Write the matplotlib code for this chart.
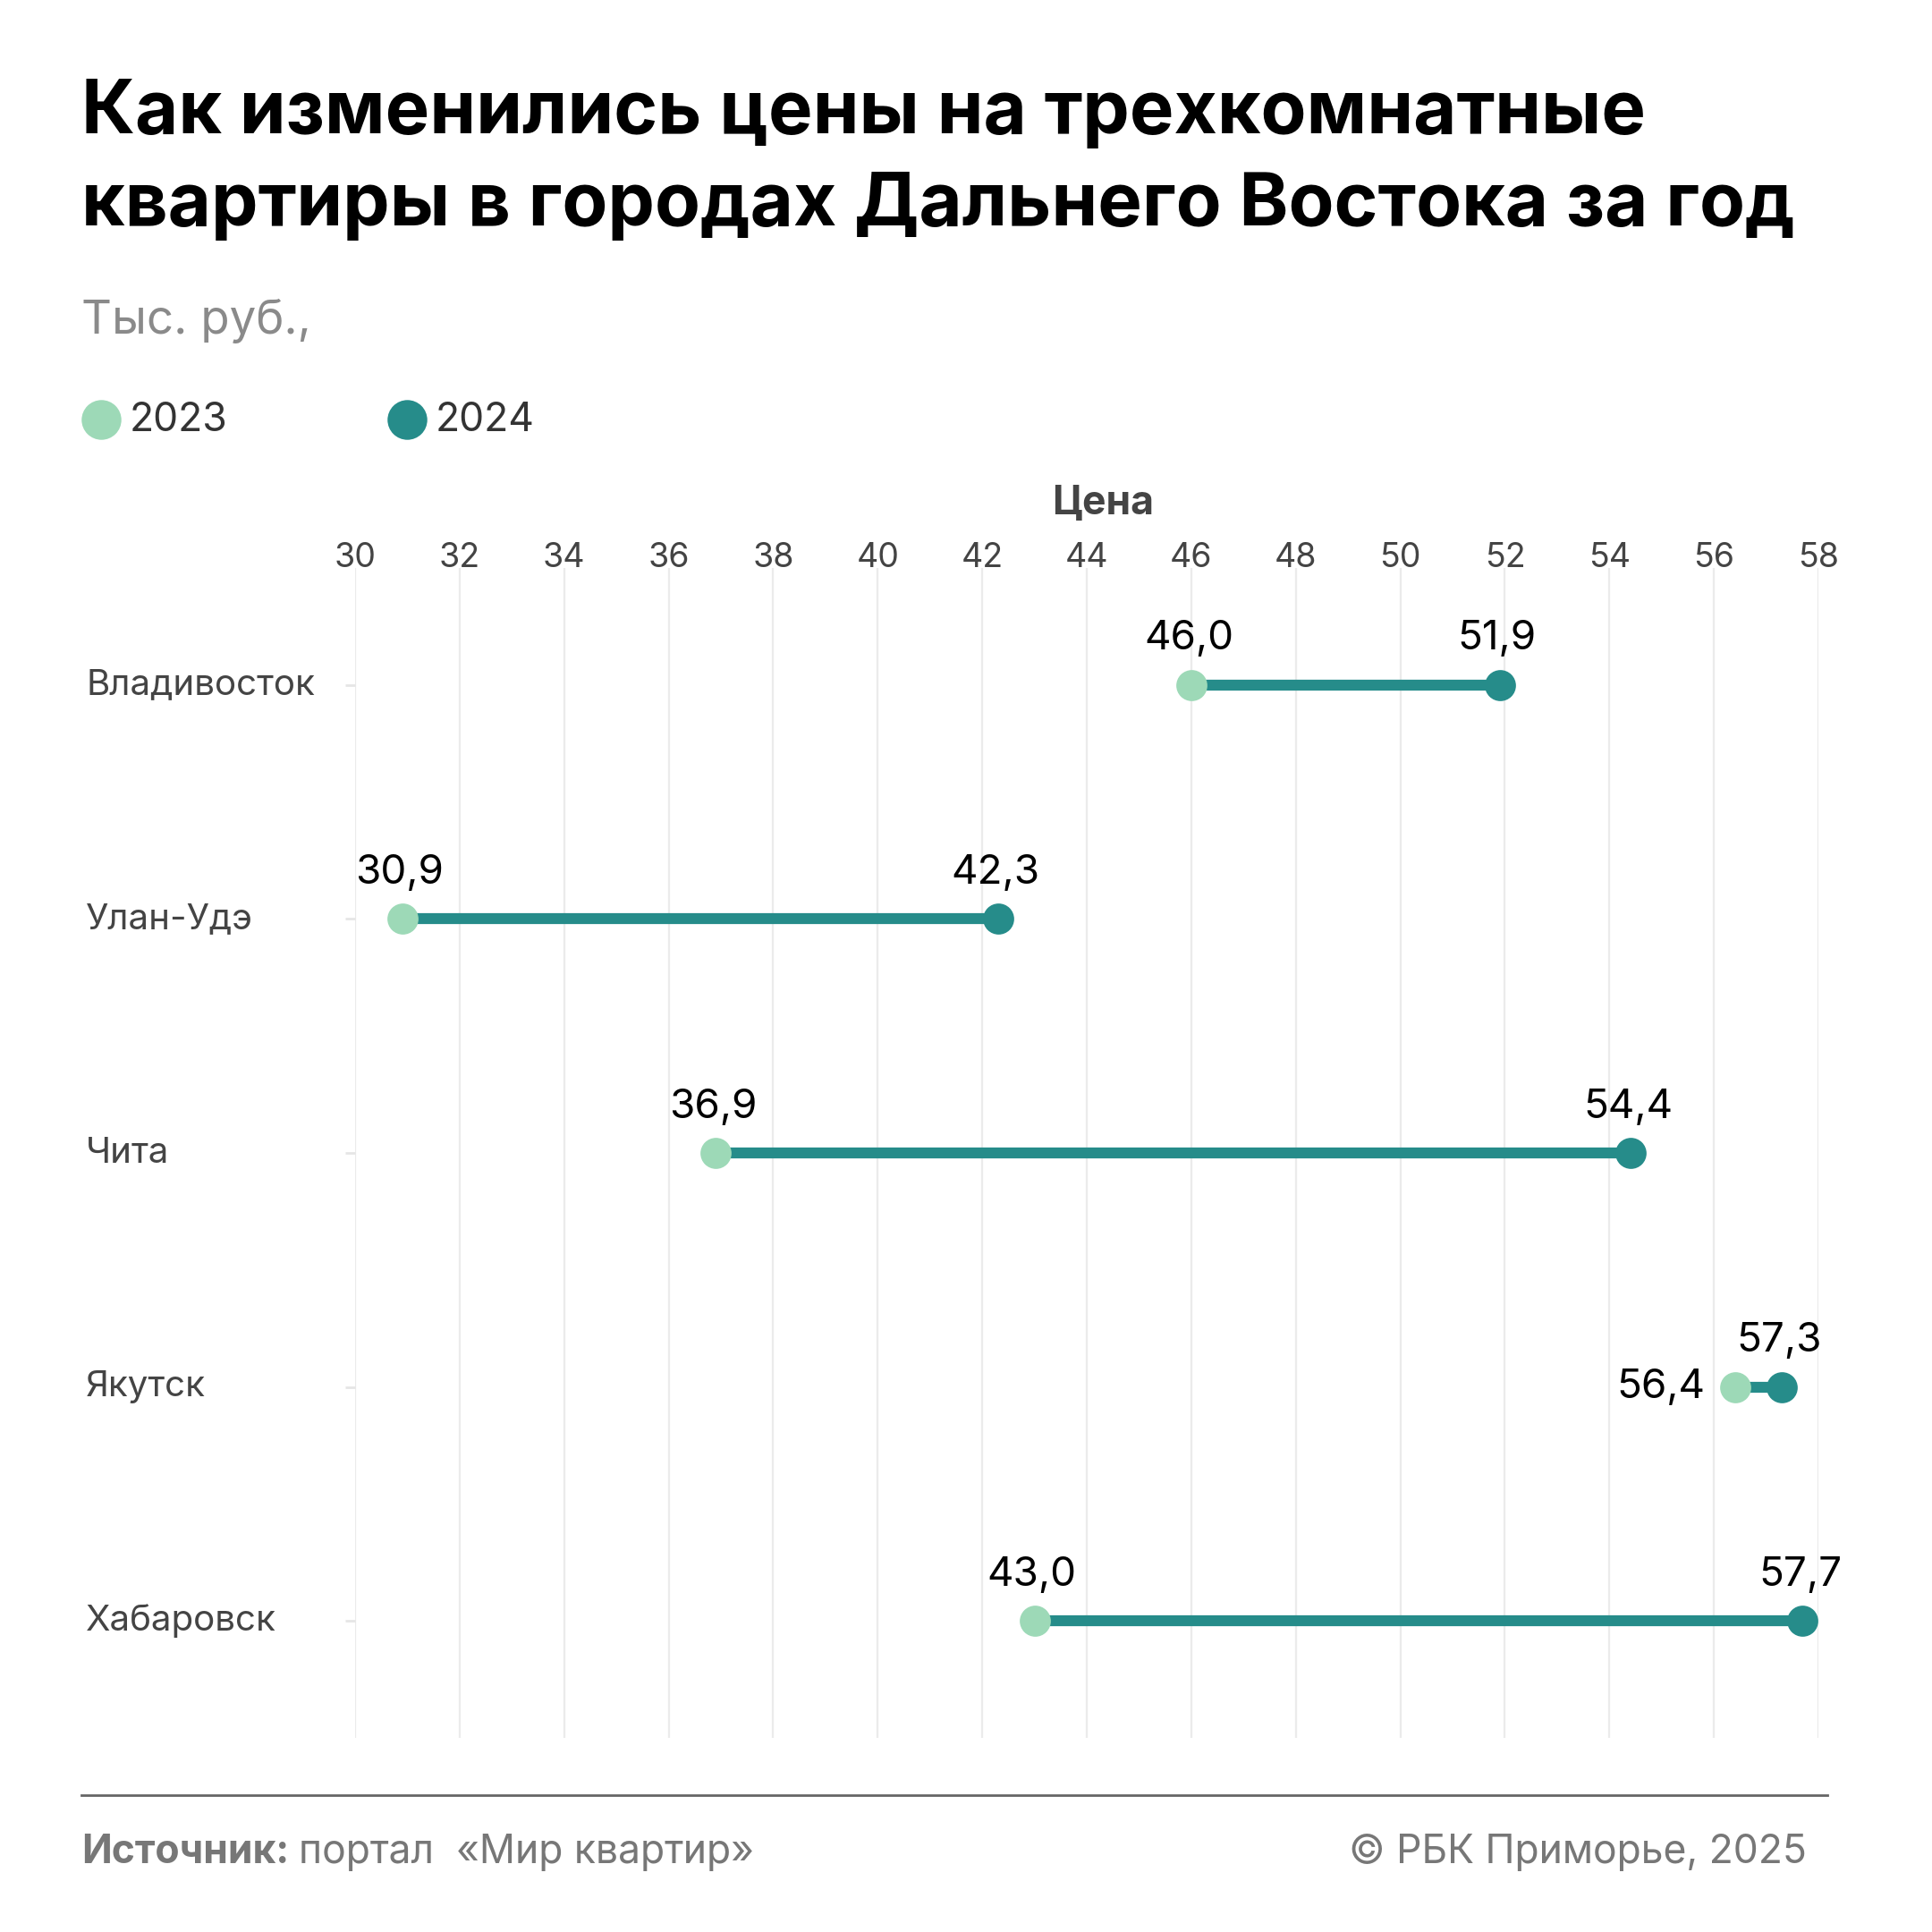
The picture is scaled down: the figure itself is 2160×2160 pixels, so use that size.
import matplotlib
matplotlib.use("Agg")
import matplotlib.pyplot as plt
from matplotlib.lines import Line2D
import matplotlib.transforms as mtransforms

plt.rcParams['font.family'] = ['Inter', 'DejaVu Sans']

cities = ["Владивосток", "Улан-Удэ", "Чита", "Якутск", "Хабаровск"]
v2023 = [46.0, 30.9, 36.9, 56.4, 43.0]
v2024 = [51.9, 42.3, 54.4, 57.3, 57.7]
xticks = list(range(30, 59, 2))
years = ["2023", "2024"]

c23 = "#9dd9b7"
c24 = "#268c8a"

fig = plt.figure(figsize=(10.8, 10.8), dpi=200)
W = H = 2160
ax = fig.add_axes([397 / W, 1 - 1943 / H, (2033 - 397) / W, (1943 - 635) / H])

y = list(range(len(cities)))
for i in y:
    ax.plot([v2023[i], v2024[i]], [i, i], color=c24, lw=4.4, solid_capstyle='butt', zorder=2)
ax.scatter(v2023, y, s=12.5**2, color=c23, zorder=3, linewidths=0)
ax.scatter(v2024, y, s=12.5**2, color=c24, zorder=3, linewidths=0)

def fmt(v):
    return f"{v:.1f}".replace(".", ",")

for i in y:
    for v in (v2023[i], v2024[i]):
        if cities[i] == "Якутск" and v == v2023[i]:
            ax.annotate(fmt(v), (v, i), xytext=(-12, 0), textcoords="offset points",
                        ha="right", va="center", fontsize=16.5, color="black")
        else:
            ax.annotate(fmt(v), (v, i), xytext=(-1, 18.5), textcoords="offset points",
                        ha="center", va="center", fontsize=16.5, color="black")

ax.set_xlim(30, 58)
ax.set_ylim(4.5, -0.5)
ax.set_xticks(xticks)
ax.set_xticklabels([str(t) for t in xticks], fontsize=13.5, color="#444444")
ax.xaxis.tick_top()
ax.xaxis.set_label_position("top")
ax.tick_params(axis="x", length=0, pad=-2.5)
ax.set_yticks(y)
ax.set_yticklabels([])
ax.tick_params(axis="y", length=4, color="#e6e6e6", width=1)
ax.grid(axis="x", color="#ebebeb", lw=0.8)
ax.set_axisbelow(True)
for s in ax.spines.values():
    s.set_visible(False)

trans = mtransforms.blended_transform_factory(fig.transFigure, ax.transData)
for i, c in enumerate(cities):
    ax.text(96 / W, i, c, transform=trans, ha="left", va="center", fontsize=14.5, color="#444444")

fig.text(1233 / W, 1 - 563 / H, "Цена", ha="center", va="center", fontsize=16, fontweight="bold", color="#444444")

fig.text(91 / W, 1 - 127 / H, "Как изменились цены на трехкомнатные", ha="left", va="center",
         fontsize=30, fontweight="bold", color="black")
fig.text(91 / W, 1 - 230 / H, "квартиры в городах Дальнего Востока за год", ha="left", va="center",
         fontsize=30, fontweight="bold", color="black")
fig.text(91 / W, 1 - 359 / H, "Тыс. руб.,", ha="left", va="center", fontsize=19, color="#8a8a8a")

# legend
for cx, col, lab in ((113, c23, years[0]), (455, c24, years[1])):
    fig.add_artist(Line2D([cx / W], [1 - 469 / H], marker="o", markersize=16, color=col,
                          markeredgewidth=0, transform=fig.transFigure))
    fig.text((cx + 32) / W, 1 - 470 / H, lab, ha="left", va="center", fontsize=16, color="#333333")

# footer
fig.add_artist(Line2D([91 / W, 2043 / W], [1 - 2007 / H, 1 - 2007 / H], color="#666666", lw=1.0,
                      transform=fig.transFigure))
t1 = fig.text(91 / W, 1 - 2071 / H, "Источник:", ha="left", va="center", fontsize=16,
              fontweight="bold", color="#777777")
fig.canvas.draw()
bb = t1.get_window_extent()
fig.text(bb.x1 / W + 11 / W, 1 - 2071 / H, "портал  «Мир квартир»", ha="left", va="center",
         fontsize=16, color="#777777")
fig.text(2020 / W, 1 - 2071 / H, "© РБК Приморье, 2025", ha="right", va="center", fontsize=16,
         color="#777777")

fig.savefig("out.png", dpi=200, facecolor="white")
